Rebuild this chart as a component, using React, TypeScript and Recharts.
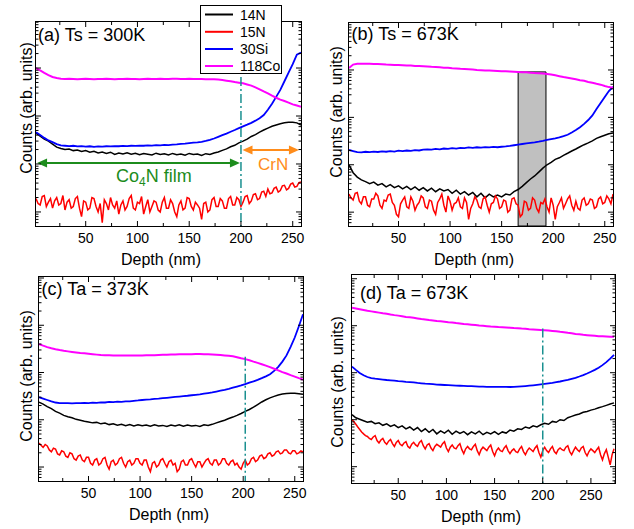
import React from 'react';
import {
  LineChart,
  Line,
  XAxis,
  YAxis,
  ReferenceLine,
  ReferenceArea,
  Legend
} from 'recharts';

// depth grid (nm) for the smooth signals
const depthABC = [
  2, 6, 10, 14, 18, 22, 26, 30, 34, 38,
  42, 46, 50, 54, 58, 62, 66, 70, 74, 78,
  82, 86, 90, 94, 98, 102, 106, 110, 114, 118,
  122, 126, 130, 134, 138, 142, 146, 150, 154, 158,
  162, 166, 170, 174, 178, 182, 186, 190, 194, 198,
  202, 206, 210, 214, 218, 222, 226, 230, 234, 238,
  242, 246, 250, 254, 258
];
const depthD = [
  2, 6, 10, 14, 18, 22, 26, 30, 34, 38,
  42, 46, 50, 54, 58, 62, 66, 70, 74, 78,
  82, 86, 90, 94, 98, 102, 106, 110, 114, 118,
  122, 126, 130, 134, 138, 142, 146, 150, 154, 158,
  162, 166, 170, 174, 178, 182, 186, 190, 194, 198,
  202, 206, 210, 214, 218, 222, 226, 230, 234, 238,
  242, 246, 250, 254, 258, 262, 266, 270, 274
];
// finer depth grid for the noisy 15N signal
const depthFineABC = [
  2, 4, 6, 8, 10, 12, 14, 16, 18, 20,
  22, 24, 26, 28, 30, 32, 34, 36, 38, 40,
  42, 44, 46, 48, 50, 52, 54, 56, 58, 60,
  62, 64, 66, 68, 70, 72, 74, 76, 78, 80,
  82, 84, 86, 88, 90, 92, 94, 96, 98, 100,
  102, 104, 106, 108, 110, 112, 114, 116, 118, 120,
  122, 124, 126, 128, 130, 132, 134, 136, 138, 140,
  142, 144, 146, 148, 150, 152, 154, 156, 158, 160,
  162, 164, 166, 168, 170, 172, 174, 176, 178, 180,
  182, 184, 186, 188, 190, 192, 194, 196, 198, 200,
  202, 204, 206, 208, 210, 212, 214, 216, 218, 220,
  222, 224, 226, 228, 230, 232, 234, 236, 238, 240,
  242, 244, 246, 248, 250, 252, 254, 256, 258
];
const depthFineD = [
  2, 4, 6, 8, 10, 12, 14, 16, 18, 20,
  22, 24, 26, 28, 30, 32, 34, 36, 38, 40,
  42, 44, 46, 48, 50, 52, 54, 56, 58, 60,
  62, 64, 66, 68, 70, 72, 74, 76, 78, 80,
  82, 84, 86, 88, 90, 92, 94, 96, 98, 100,
  102, 104, 106, 108, 110, 112, 114, 116, 118, 120,
  122, 124, 126, 128, 130, 132, 134, 136, 138, 140,
  142, 144, 146, 148, 150, 152, 154, 156, 158, 160,
  162, 164, 166, 168, 170, 172, 174, 176, 178, 180,
  182, 184, 186, 188, 190, 192, 194, 196, 198, 200,
  202, 204, 206, 208, 210, 212, 214, 216, 218, 220,
  222, 224, 226, 228, 230, 232, 234, 236, 238, 240,
  242, 244, 246, 248, 250, 252, 254, 256, 258, 260,
  262, 264, 266, 268, 270, 272, 274
];

// (a) Ts = 300K
const a14N = [
  440, 380, 330, 300, 260, 225, 210, 200, 205, 190,
  196, 182, 190, 176, 184, 170, 178, 166, 176, 158,
  170, 162, 172, 160, 168, 156, 166, 160, 154, 168,
  158, 164, 154, 166, 156, 162, 152, 166, 158, 162,
  150, 164, 158, 170, 178, 192, 206, 228, 245, 275,
  300, 330, 375, 410, 460, 510, 560, 610, 650, 690,
  720, 740, 745, 720, 650
];
const a15N = [
  19, 15, 14, 21, 22, 13, 16, 19, 12, 17,
  20, 14, 15, 22, 11, 16, 18, 12, 13, 19,
  21, 12, 8, 17, 16, 11, 12, 20, 19, 13,
  10, 15, 6, 18, 15, 11, 20, 14, 12, 17,
  9, 14, 17, 11, 13, 19, 22, 12, 11, 16,
  15, 21, 9, 13, 18, 10, 13, 17, 16, 11,
  10, 16, 20, 12, 12, 18, 15, 10, 8, 14,
  17, 11, 12, 20, 19, 13, 11, 16, 14, 12,
  7, 15, 16, 10, 11, 18, 20, 13, 13, 19,
  17, 12, 12, 19, 21, 14, 14, 20, 18, 13,
  16, 21, 22, 15, 17, 23, 24, 18, 19, 26,
  27, 21, 30, 24, 25, 31, 33, 26, 28, 35,
  36, 29, 31, 38, 40, 33, 34, 41, 42
];
const a30Si = [
  460, 400, 350, 310, 285, 260, 245, 240, 236, 240,
  232, 236, 230, 234, 228, 232, 230, 234, 232, 236,
  234, 238, 236, 240, 238, 242, 240, 244, 242, 246,
  244, 250, 248, 252, 256, 262, 266, 272, 278, 282,
  290, 302, 318, 340, 368, 400, 430, 470, 510, 560,
  610, 660, 720, 800, 900, 1050, 1350, 1800, 2500, 3500,
  5300, 8000, 12000, 19000, 21000
];
const a118Co = [
  10000, 8900, 7900, 7100, 6500, 6200, 6000, 5900, 5950, 5900,
  5850, 5900, 5950, 5900, 5850, 5900, 5900, 5950, 5900, 5850,
  5900, 5900, 5950, 5900, 5900, 5850, 5900, 5950, 5900, 5900,
  5950, 5900, 5900, 5950, 5950, 5900, 5900, 5950, 5900, 5900,
  5900, 5850, 5850, 5850, 5750, 5600, 5450, 5300, 5100, 4950,
  4800, 4550, 4300, 3950, 3600, 3250, 2950, 2650, 2400, 2200,
  2050, 1900, 1750, 1650, 1550
];

// (b) Ts = 673K
const b14N = [
  100, 68, 55, 48, 44, 40, 43, 37, 40, 34,
  38, 33, 36, 31, 35, 30, 34, 29, 33, 28,
  32, 27, 31, 28, 30, 25, 29, 24, 27, 23,
  26, 21, 25, 20, 24, 21, 23, 21, 24, 23,
  27, 30, 35, 42, 50, 58, 70, 85, 100, 112,
  130, 140, 158, 175, 195, 215, 240, 265, 290, 320,
  360, 390, 420, 450, 470
];
const b15N = [
  24, 20, 18, 25, 26, 17, 15, 21, 21, 14,
  13, 19, 19, 25, 22, 14, 12, 18, 17, 23,
  24, 16, 14, 9, 8, 15, 18, 21, 13, 12,
  21, 17, 11, 14, 16, 22, 20, 13, 12, 18,
  17, 11, 9, 16, 19, 24, 14, 10, 22, 17,
  11, 15, 16, 20, 13, 12, 20, 16, 7, 12,
  15, 21, 18, 13, 12, 19, 21, 14, 10, 15,
  16, 22, 19, 12, 13, 18, 17, 10, 11, 19,
  20, 15, 14, 8, 9, 17, 16, 11, 12, 20,
  18, 12, 10, 16, 15, 19, 13, 10, 20, 14,
  7, 13, 16, 20, 12, 15, 19, 22, 14, 11,
  17, 12, 11, 18, 20, 14, 15, 19, 18, 12,
  13, 19, 21, 15, 16, 22, 19, 15, 24
];
const b30Si = [
  205, 195, 185, 182, 188, 184, 190, 186, 192, 188,
  194, 190, 198, 194, 200, 196, 204, 200, 208, 212,
  208, 216, 212, 220, 216, 224, 220, 228, 224, 232,
  228, 234, 230, 236, 232, 238, 234, 240, 244, 250,
  258, 266, 274, 282, 290, 298, 308, 320, 334, 346,
  360, 378, 400, 430, 480, 540, 620, 730, 880, 1100,
  1500, 2000, 2700, 3600, 4400
];
const b118Co = [
  11000, 13000, 13500, 13500, 13500, 13500, 13400, 13300, 13200, 13000,
  12900, 12800, 12700, 12600, 12500, 12400, 12200, 12100, 12000, 11900,
  11700, 11600, 11400, 11200, 11100, 10900, 10800, 10600, 10500, 10400,
  10200, 10000, 9900, 9800, 9700, 9600, 9500, 9400, 9350, 9300,
  9200, 9100, 9000, 8900, 8750, 8600, 8500, 8400, 8250, 8000,
  7700, 7400, 7100, 6850, 6600, 6350, 6100, 5900, 5600, 5350,
  5100, 4900, 4600, 4350, 4200
];
const bBand = [166, 193];
const bBandTop = 9100;

// (c) Ta = 373K
const c14N = [
  235, 215, 190, 172, 150, 138, 124, 116, 110, 102,
  98, 93, 90, 86, 88, 82, 85, 79, 82, 77,
  80, 75, 79, 74, 78, 75, 77, 73, 78, 74,
  76, 72, 77, 74, 78, 73, 77, 74, 76, 72,
  78, 76, 80, 86, 92, 98, 106, 114, 124, 136,
  150, 165, 185, 210, 238, 265, 290, 312, 335, 350,
  360, 364, 362, 355, 345
];
const c15N = [
  32, 29, 26, 30, 28, 23, 21, 25, 24, 19,
  18, 22, 21, 17, 16, 20, 19, 15, 14, 17,
  18, 14, 13, 16, 16, 12, 11, 14, 15, 11,
  12, 15, 16, 11, 9, 13, 14, 11, 12, 15,
  16, 12, 10, 13, 14, 11, 12, 15, 15, 12,
  11, 14, 14, 10, 8, 12, 13, 10, 11, 14,
  15, 12, 10, 13, 14, 11, 12, 8, 9, 13,
  14, 11, 11, 14, 15, 12, 10, 13, 13, 10,
  12, 14, 15, 12, 11, 14, 14, 11, 12, 15,
  15, 12, 11, 13, 14, 11, 12, 10, 9, 12,
  14, 11, 12, 15, 16, 13, 14, 17, 18, 15,
  16, 19, 20, 17, 18, 21, 22, 19, 20, 23,
  23, 20, 19, 22, 22, 19, 20, 22, 21
];
const c30Si = [
  300, 280, 262, 245, 232, 226, 224, 226, 222, 226,
  224, 228, 226, 230, 228, 234, 232, 238, 236, 242,
  240, 246, 244, 252, 256, 262, 266, 270, 276, 280,
  286, 292, 298, 304, 310, 316, 322, 330, 338, 346,
  356, 366, 378, 395, 412, 430, 452, 478, 505, 535,
  570, 610, 650, 700, 760, 830, 920, 1080, 1320, 1700,
  2300, 3500, 5500, 9500, 17000
];
const c118Co = [
  4000, 3700, 3450, 3250, 3100, 2980, 2880, 2800, 2730, 2660,
  2600, 2560, 2500, 2440, 2390, 2350, 2330, 2310, 2300, 2290,
  2290, 2280, 2290, 2280, 2290, 2300, 2310, 2320, 2330, 2350,
  2370, 2390, 2400, 2410, 2420, 2430, 2440, 2440, 2450, 2450,
  2440, 2430, 2410, 2380, 2340, 2300, 2250, 2200, 2110, 2000,
  1920, 1820, 1700, 1600, 1500, 1400, 1300, 1200, 1110, 1020,
  950, 880, 820, 760, 710
];

// (d) Ta = 673K
const d14N = [
  128, 110, 102, 95, 88, 92, 82, 86, 76, 82,
  72, 78, 68, 74, 64, 70, 60, 68, 56, 64,
  54, 62, 50, 58, 52, 60, 49, 57, 51, 56,
  48, 55, 50, 57, 48, 54, 50, 56, 49, 55,
  52, 60, 57, 64, 62, 70, 66, 74, 70, 78,
  84, 80, 92, 88, 100, 96, 110, 118, 126, 132,
  144, 150, 160, 168, 180, 190, 202, 215, 228
];
const d15N = [
  100, 90, 80, 70, 62, 55, 50, 46, 44, 40,
  38, 43, 46, 36, 32, 37, 40, 33, 30, 35,
  38, 31, 27, 33, 36, 30, 28, 32, 34, 27,
  25, 30, 33, 29, 27, 33, 36, 28, 24, 29,
  31, 25, 22, 27, 30, 28, 26, 31, 34, 25,
  21, 26, 29, 25, 24, 28, 31, 23, 19, 24,
  27, 24, 23, 27, 30, 22, 18, 23, 26, 24,
  22, 26, 29, 21, 17, 22, 25, 22, 21, 25,
  28, 22, 19, 22, 24, 21, 20, 24, 27, 21,
  18, 22, 25, 23, 21, 25, 28, 20, 16, 22,
  26, 22, 20, 24, 27, 21, 19, 23, 25, 23,
  22, 26, 28, 21, 18, 22, 26, 23, 21, 25,
  27, 20, 17, 21, 24, 22, 20, 23, 26, 18,
  14, 19, 23, 16, 11, 18, 24
];
const d30Si = [
  1350, 1150, 990, 880, 810, 770, 745, 730, 715, 700,
  690, 680, 665, 655, 640, 630, 620, 605, 595, 585,
  578, 570, 560, 555, 548, 542, 538, 532, 528, 524,
  520, 516, 512, 508, 505, 502, 500, 498, 500, 498,
  502, 496, 500, 506, 512, 520, 530, 540, 552, 565,
  578, 592, 608, 628, 650, 676, 705, 740, 780, 830,
  890, 960, 1050, 1150, 1280, 1450, 1680, 2000, 2400
];
const d118Co = [
  24000, 23200, 22400, 21600, 20800, 20200, 19600, 19000, 18400, 17900,
  17300, 16800, 16400, 15900, 15400, 15100, 14700, 14300, 13900, 13600,
  13200, 12900, 12600, 12400, 12200, 11900, 11700, 11400, 11200, 10900,
  10700, 10500, 10300, 10100, 9950, 9800, 9650, 9550, 9400, 9300,
  9200, 9100, 8950, 8850, 8700, 8600, 8450, 8350, 8250, 8150,
  8050, 7900, 7750, 7600, 7400, 7250, 7050, 6900, 6700, 6550,
  6400, 6300, 6200, 6100, 6000, 5950, 5900, 5850, 5800
];

// ticks
const xTicksABC = [25, 50, 75, 100, 125, 150, 175, 200, 225, 250];
const xTicksD = [25, 50, 75, 100, 125, 150, 175, 200, 225, 250, 275];
const xLabelled = [50, 100, 150, 200, 250];
const yMajor = [10, 100, 1000, 10000, 100000];
const yMinor = [
  5, 6, 7, 8, 9,
  20, 30, 40, 50, 60, 70, 80, 90,
  200, 300, 400, 500, 600, 700, 800, 900,
  2000, 3000, 4000, 5000, 6000, 7000, 8000, 9000,
  20000, 30000, 40000, 50000, 60000, 70000, 80000, 90000
];

const FONT = '"Liberation Sans", Arial, Helvetica, sans-serif';
const GREEN = '#1c8c1c';
const ORANGE = '#ff8c1a';
const TEAL = '#1a9090';

const series = [
  { key: 'n14', name: '14N', color: '#000000', width: 1.5 },
  { key: 'n15', name: '15N', color: '#ff0000', width: 1.5 },
  { key: 'si30', name: '30Si', color: '#0000ff', width: 1.8 },
  { key: 'co118', name: '118Co', color: '#ff00ff', width: 2 }
];

const buildRows = (depth: number[], n14: number[], si30: number[], co118: number[]) =>
  depth.map((d, i) => ({ depth: d, n14: n14[i], si30: si30[i], co118: co118[i] }));
const buildFine = (depth: number[], n15: number[]) => depth.map((d, i) => ({ depth: d, n15: n15[i] }));

const PAD = { top: 22, left: 36, right: 14, bottom: 44 };

const makeXTick = (plotTop: number, plotBottom: number) => (props: any) => {
  const { x, payload } = props;
  const v = payload.value;
  const major = xLabelled.includes(v);
  const len = major ? 5 : 3;
  return (
    <g>
      <line x1={x} x2={x} y1={plotBottom} y2={plotBottom - len} stroke="#000" />
      <line x1={x} x2={x} y1={plotTop} y2={plotTop + len} stroke="#000" />
      {major && (
        <text x={x} y={plotBottom + 17} textAnchor="middle" fontSize={14} fontFamily={FONT} fill="#000">
          {v}
        </text>
      )}
    </g>
  );
};

const makeYTick = (plotLeft: number, plotRight: number) => (props: any) => {
  const { y, payload } = props;
  const len = yMajor.includes(payload.value) ? 5 : 2.5;
  return (
    <g>
      <line x1={plotLeft} x2={plotLeft + len} y1={y} y2={y} stroke="#000" />
      <line x1={plotRight} x2={plotRight - len} y1={y} y2={y} stroke="#000" />
    </g>
  );
};

const ArrowShape = (props: any) => {
  const { x1, y1, x2, y2, color } = props;
  const left = Math.min(x1, x2);
  const right = Math.max(x1, x2);
  const y = (y1 + y2) / 2;
  const head = 10;
  const half = 4.5;
  return (
    <g>
      <line x1={left + head - 1} y1={y} x2={right - head + 1} y2={y} stroke={color} strokeWidth={2} />
      <polygon points={`${left},${y} ${left + head},${y - half} ${left + head},${y + half}`} fill={color} />
      <polygon points={`${right},${y} ${right - head},${y - half} ${right - head},${y + half}`} fill={color} />
    </g>
  );
};

const LegendBox = (props: any) => {
  const payload = props.payload || [];
  const ordered = series
    .map((s) => payload.find((p: any) => p.value === s.name))
    .filter(Boolean);
  const rows = [9.5, 26.8, 44, 61];
  return (
    <svg width={82} height={69} style={{ display: 'block', overflow: 'visible' }}>
      <rect x={0.5} y={0.5} width={81} height={68} fill="#fff" stroke="#000" />
      {ordered.map((p: any, i: number) => (
        <g key={p.value}>
          <line x1={5} x2={33} y1={rows[i]} y2={rows[i]} stroke={p.color} strokeWidth={2} />
          <text x={40} y={rows[i] + 5} fontSize={14} fontFamily={FONT} fill="#000">{p.value}</text>
        </g>
      ))}
    </svg>
  );
};

interface PanelSpec {
  id: string;
  left: number;
  top: number;
  w: number;
  h: number;
  xDomain: number[];
  yDomain: number[];
  xTicks: number[];
  rows: any[];
  fine: any[];
  divider?: { x: number; top: number };
  legend?: boolean;
  band?: boolean;
  arrows?: boolean;
}

const panels: PanelSpec[] = [
  {
    id: 'a', left: 36, top: 22, w: 265, h: 204,
    xDomain: [2, 258], yDomain: [5.1, 91000], xTicks: xTicksABC,
    rows: buildRows(depthABC, a14N, a30Si, a118Co),
    fine: buildFine(depthFineABC, a15N),
    divider: { x: 200, top: 6500 }, legend: true, arrows: true
  },
  {
    id: 'b', left: 349, top: 23, w: 264, h: 203,
    xDomain: [2, 258], yDomain: [5.1, 98000], xTicks: xTicksABC,
    rows: buildRows(depthABC, b14N, b30Si, b118Co),
    fine: buildFine(depthFineABC, b15N),
    band: true
  },
  {
    id: 'c', left: 39, top: 277, w: 264, h: 204,
    xDomain: [2, 258], yDomain: [5.06, 105000], xTicks: xTicksABC,
    rows: buildRows(depthABC, c14N, c30Si, c118Co),
    fine: buildFine(depthFineABC, c15N),
    divider: { x: 202, top: 2150 }
  },
  {
    id: 'd', left: 352, top: 275, w: 263, h: 208,
    xDomain: [2, 275], yDomain: [4.5, 120000], xTicks: xTicksD,
    rows: buildRows(depthD, d14N, d30Si, d118Co),
    fine: buildFine(depthFineD, d15N),
    divider: { x: 200, top: 8700 }
  }
];

const Panel: React.FC<{ spec: PanelSpec }> = ({ spec }) => {
  const width = PAD.left + spec.w + PAD.right;
  const height = PAD.top + spec.h + PAD.bottom;
  const plotTop = PAD.top;
  const plotBottom = PAD.top + spec.h;
  const yTicks = [...yMajor, ...yMinor].filter((t) => t >= spec.yDomain[0] && t <= spec.yDomain[1]);
  return (
    <div style={{ position: 'absolute', left: spec.left - PAD.left, top: spec.top - PAD.top }}>
      <LineChart
        width={width}
        height={height}
        data={spec.rows}
        margin={{ top: PAD.top, right: PAD.right, bottom: PAD.bottom - 1, left: PAD.left - 1 }}
      >
        <XAxis
          xAxisId="x"
          dataKey="depth"
          type="number"
          domain={spec.xDomain}
          allowDataOverflow
          ticks={spec.xTicks}
          interval={0}
          tick={makeXTick(plotTop, plotBottom)}
          tickLine={false}
          axisLine={false}
          height={1}
        />
        <YAxis
          yAxisId="y"
          type="number"
          scale="log"
          domain={spec.yDomain}
          allowDataOverflow
          ticks={yTicks}
          interval={0}
          tick={makeYTick(PAD.left, PAD.left + spec.w)}
          tickLine={false}
          axisLine={false}
          width={1}
        />
        {spec.band && (
          <ReferenceArea
            xAxisId="x"
            yAxisId="y"
            x1={bBand[0]}
            x2={bBand[1]}
            y1={spec.yDomain[0]}
            y2={bBandTop}
            fill="#c0c0c0"
            fillOpacity={1}
            stroke="#000"
            strokeWidth={1}
            ifOverflow="visible"
          />
        )}
        {series.map((s) => (
          <Line
            key={s.key}
            xAxisId="x"
            yAxisId="y"
            type="linear"
            data={s.key === 'n15' ? spec.fine : undefined}
            dataKey={s.key}
            name={s.name}
            stroke={s.color}
            strokeWidth={s.width}
            dot={false}
            activeDot={false}
            isAnimationActive={false}
          />
        ))}
        {spec.divider && (
          <ReferenceLine
            xAxisId="x"
            yAxisId="y"
            segment={[{ x: spec.divider.x, y: spec.divider.top }, { x: spec.divider.x, y: spec.yDomain[0] }]}
            stroke={TEAL}
            strokeWidth={1.5}
            strokeDasharray="9 3 2 3"
            ifOverflow="visible"
          />
        )}
        {spec.arrows && (
          <ReferenceLine
            xAxisId="x"
            yAxisId="y"
            segment={[{ x: 3, y: 105 }, { x: 199, y: 105 }]}
            ifOverflow="visible"
            shape={(p: any) => <ArrowShape {...p} color={GREEN} />}
          />
        )}
        {spec.arrows && (
          <ReferenceLine
            xAxisId="x"
            yAxisId="y"
            segment={[{ x: 201.5, y: 195 }, { x: 256, y: 195 }]}
            ifOverflow="visible"
            shape={(p: any) => <ArrowShape {...p} color={ORANGE} />}
          />
        )}
        {spec.legend && (
          <Legend
            layout="vertical"
            align="center"
            verticalAlign="middle"
            content={<LegendBox />}
            wrapperStyle={{ left: 200 - (spec.left - PAD.left), top: 5 - (spec.top - PAD.top), width: 82, height: 69 }}
          />
        )}
      </LineChart>
    </div>
  );
};

const titles = [
  { text: '(a) Ts = 300K', x: 38, y: 40.5 },
  { text: '(b) Ts = 673K', x: 351.5, y: 40 },
  { text: '(c) Ta = 373K', x: 41.5, y: 295 },
  { text: '(d) Ta = 673K', x: 360, y: 299 }
];
const yLabels = [
  { x: 31.5, y: 108 },
  { x: 341.5, y: 112 },
  { x: 31.5, y: 376 },
  { x: 343, y: 382 }
];
const xLabelPos = [
  { x: 161, y: 264.5 },
  { x: 474, y: 265 },
  { x: 169, y: 520 },
  { x: 481, y: 522 }
];

const App: React.FC = () => {
  return (
    <div style={{ position: 'absolute', left: 0, top: 0, width: 634, height: 529, background: '#fff', fontFamily: FONT }}>
      <svg width={634} height={529} style={{ position: 'absolute', left: 0, top: 0 }}>
        {panels.map((p) => (
          <rect key={p.id} x={p.left - 0.5} y={p.top - 0.5} width={p.w + 1} height={p.h + 1} fill="none" stroke="#000" strokeWidth={1} />
        ))}
        {titles.map((t) => (
          <text key={t.text} x={t.x} y={t.y} fontSize={18} fontFamily={FONT} fill="#000">{t.text}</text>
        ))}
        {yLabels.map((l, i) => (
          <text
            key={i}
            x={l.x}
            y={l.y}
            fontSize={16}
            fontFamily={FONT}
            fill="#000"
            textAnchor="middle"
            transform={`rotate(-90, ${l.x}, ${l.y})`}
          >
            Counts (arb. units)
          </text>
        ))}
        {xLabelPos.map((l, i) => (
          <text key={i} x={l.x} y={l.y} fontSize={16} fontFamily={FONT} fill="#000" textAnchor="middle">
            Depth (nm)
          </text>
        ))}
        <text x={116} y={182} fontSize={18} fontFamily={FONT} fill={GREEN}>
          Co<tspan fontSize={12} dy={4}>4</tspan><tspan dy={-4}>N film</tspan>
        </text>
        <text x={258} y={170} fontSize={17} fontFamily={FONT} fill={ORANGE}>CrN</text>
      </svg>
      {panels.map((p) => (
        <Panel key={p.id} spec={p} />
      ))}
    </div>
  );
};

export default App;
